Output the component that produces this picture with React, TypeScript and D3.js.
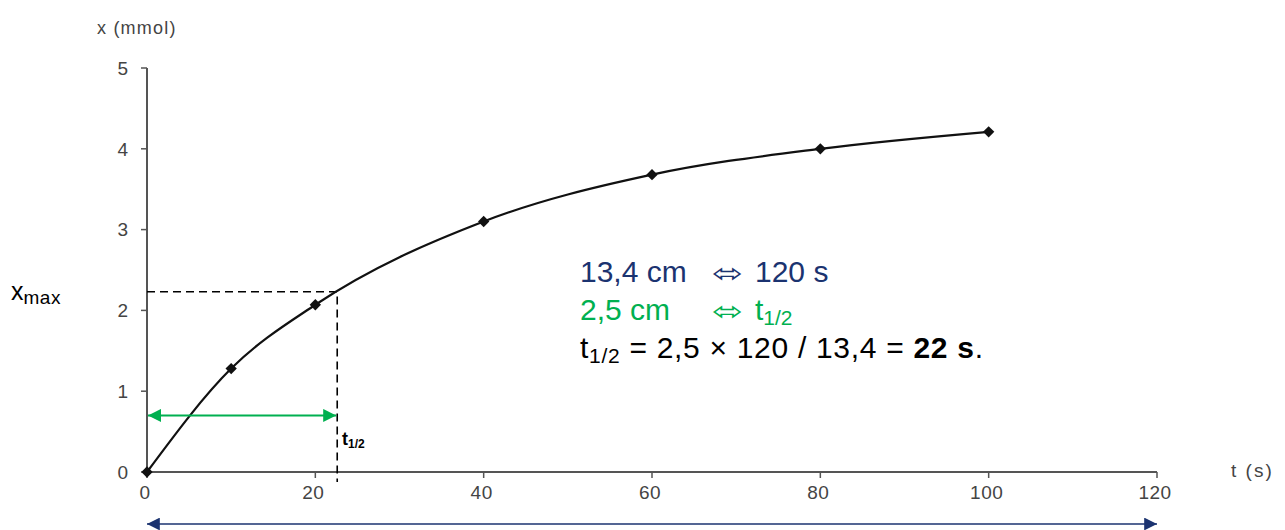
import React, { useEffect } from 'react';
import * as d3 from 'd3';

// measured points
const times = [0, 10, 20, 40, 60, 80, 100];
const amounts = [0, 1.28, 2.07, 3.1, 3.68, 4.0, 4.21];
const xTicks = [0, 20, 40, 60, 80, 100, 120];
const yTicks = [0, 1, 2, 3, 4, 5];

// half-reaction construction
const tHalf = 22.6;
const xHalf = 2.23;
const greenArrowLevel = 0.7;

const W = 1285;
const H = 530;
const NAVY = '#1B3370';
const GREEN = '#00B050';
const AXIS = '#555';
const FONT = 'Liberation Sans, Arial, sans-serif';

const App = () => {
  useEffect(() => {
    document.body.style.margin = '0';
  }, []);

  const x = d3.scaleLinear().domain([0, 120]).range([147, 1157]);
  const y = d3.scaleLinear().domain([0, 5]).range([472, 68]);

  const pts: [number, number][] = times.map((t, i) => [x(t), y(amounts[i])]);
  const line = d3.line().curve(d3.curveMonotoneX)(pts) || '';
  const marker = d3.symbol().type(d3.symbolSquare).size(64)() || '';
  const tickStyle = { fontFamily: FONT, fill: '#444' };

  return (
    <svg width={W} height={H} style={{ display: 'block', background: '#fff' }}>
      <defs>
        <marker id="gArrow" viewBox="0 0 10 10" refX="10" refY="5" markerWidth="7.5" markerHeight="6.5" markerUnits="strokeWidth" orient="auto-start-reverse">
          <path d="M0,0 L10,5 L0,10 z" fill={GREEN} />
        </marker>
        <marker id="nArrow" viewBox="0 0 10 10" refX="10" refY="5" markerWidth="11" markerHeight="8" markerUnits="strokeWidth" orient="auto-start-reverse">
          <path d="M0,0 L10,5 L0,10 z" fill={NAVY} />
        </marker>
      </defs>

      {/* axes */}
      <line x1={x(0)} x2={x(0)} y1={y(5)} y2={y(0)} stroke={AXIS} strokeWidth={2} />
      <line x1={x(0)} x2={x(120)} y1={y(0)} y2={y(0)} stroke={AXIS} strokeWidth={2} />
      {yTicks.map(v => (
        <g key={'y' + v}>
          <line x1={x(0) - 6} x2={x(0)} y1={y(v)} y2={y(v)} stroke={AXIS} strokeWidth={1.5} />
          <text x={128} y={y(v)} dy="0.36em" textAnchor="end" fontSize={19} {...tickStyle}>{v}</text>
        </g>
      ))}
      {xTicks.map(v => (
        <g key={'x' + v}>
          <line x1={x(v)} x2={x(v)} y1={y(0)} y2={y(0) + 6} stroke={AXIS} strokeWidth={1.5} />
          <text x={x(v) - 2} y={499} textAnchor="middle" fontSize={19} letterSpacing={0.5} {...tickStyle}>{v}</text>
        </g>
      ))}
      <text x={97} y={34} fontSize={18} letterSpacing={1.2} {...tickStyle}>x (mmol)</text>
      <text x={1231} y={477} fontSize={19} letterSpacing={2} {...tickStyle}>t (s)</text>

      {/* dashed construction */}
      <polyline
        points={`${x(0)},${y(xHalf)} ${x(tHalf)},${y(xHalf)} ${x(tHalf)},${y(0) + 10}`}
        fill="none" stroke="#000" strokeWidth={1.6} strokeDasharray="8,5" />

      {/* curve */}
      <path d={line} fill="none" stroke="#111" strokeWidth={2.2} />
      {pts.map((p, i) => (
        <path key={i} d={marker} transform={`translate(${p[0]},${p[1]}) rotate(45)`} fill="#111" />
      ))}

      {/* green half-time arrow */}
      <line x1={x(0) + 1} x2={x(tHalf) - 1} y1={y(greenArrowLevel)} y2={y(greenArrowLevel)}
        stroke={GREEN} strokeWidth={2} markerStart="url(#gArrow)" markerEnd="url(#gArrow)" />
      <text x={342} y={445} fontFamily={FONT} fontSize={18} fontWeight="bold" fill="#000">
        t<tspan fontSize={12} dy={3}>1/2</tspan>
      </text>

      {/* navy full-scale arrow */}
      <line x1={x(0)} x2={x(120)} y1={524} y2={524}
        stroke={NAVY} strokeWidth={1.6} markerStart="url(#nArrow)" markerEnd="url(#nArrow)" />

      {/* x max label */}
      <text x={11} y={300} fontFamily={FONT} fontSize={25} fill="#000">
        x<tspan fontSize={19} dy={4} letterSpacing={0.5}>max</tspan>
      </text>

      {/* calculation */}
      <g fontFamily={FONT} fontSize={30}>
        <text x={580} y={282} fill={NAVY}>13,4 cm</text>
        <text x={712} y={282} fill={NAVY} fontFamily="DejaVu Sans" textLength={31} lengthAdjust="spacingAndGlyphs" fontSize={26}>⬄</text>
        <text x={755} y={282} fill={NAVY}>120 s</text>

        <text x={580} y={320} fill={GREEN}>2,5 cm</text>
        <text x={712} y={320} fill={GREEN} fontFamily="DejaVu Sans" textLength={31} lengthAdjust="spacingAndGlyphs" fontSize={26}>⬄</text>
        <text x={755} y={320} fill={GREEN}>t<tspan fontSize={21} dy={5}>1/2</tspan></text>

        <text x={580} y={358} fill="#000" letterSpacing={0.7}>t<tspan fontSize={21} dy={5}>1/2</tspan><tspan dy={-5}> = 2,5 × 120 / 13,4 = </tspan><tspan fontWeight="bold">22 s</tspan>.</text>
      </g>
    </svg>
  );
};

export default App;
